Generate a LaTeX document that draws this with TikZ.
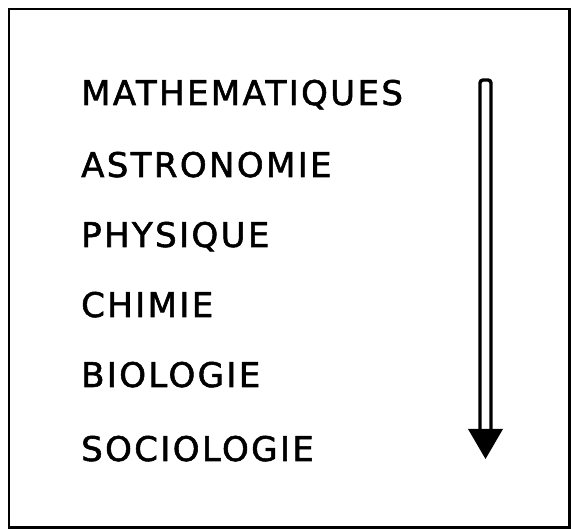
\documentclass[tikz,border=0pt]{standalone}
\usepackage{fontspec}
\newfontfamily\dinfont[LetterSpace=7,FakeBold=1.6]{DejaVu Sans}
\begin{document}
\begin{tikzpicture}[x=1pt,y=-1pt,
  subject/.style={anchor=base west, inner sep=0pt, font=\dinfont\fontsize{34}{40}\selectfont, text=black},
  frame/.style={draw=black, line width=2.2pt},
  shaft/.style={draw=black, line width=3.4pt, rounded corners=3pt},
  head/.style={fill=black, draw=none}]
\useasboundingbox (0,0) rectangle (571,529);
\draw[frame] (9,9) rectangle (569.5,527.5);
\node[subject] (math) at (81,105) {MATHEMATIQUES};
\node[subject] (astro) at (81,177) {ASTRONOMIE};
\node[subject] (phys) at (81,247) {PHYSIQUE};
\node[subject] (chim) at (81,317) {CHIMIE};
\node[subject] (bio) at (81,387) {BIOLOGIE};
\node[subject] (socio) at (81,461) {SOCIOLOGIE};
\coordinate (top) at (485.5,80);
\coordinate (tip) at (485.5,459);
\draw[shaft] (480,431) -- (480,80) -- (491,80) -- (491,431);
\fill[head] (468,429) -- (503,429) -- (tip) -- cycle;
\end{tikzpicture}
\end{document}
